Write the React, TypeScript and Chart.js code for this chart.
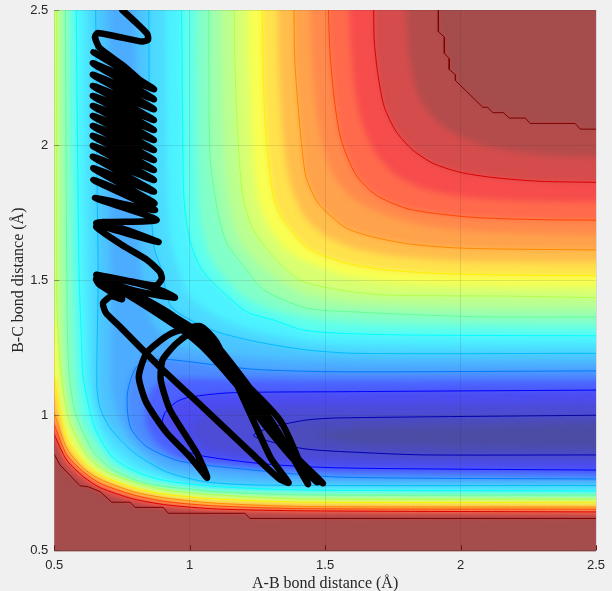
import React, { useEffect, useRef } from "react";
import { Chart, registerables } from "chart.js";

Chart.register(...registerables);

type P = [number, number];

const axisTicks = [0.5, 1, 1.5, 2, 2.5];
const xTitle = "A-B bond distance (Å)";
const yTitle = "B-C bond distance (Å)";

// Contour lines: the high-energy side (upper right) ...
const darkRedHigh: P[] = [[1.918,2.5],[1.918,2.42],[1.94,2.4],[1.94,2.34],[1.958,2.32],[1.958,2.28],[1.981,2.26],[1.981,2.239],[2.082,2.14],[2.1,2.14],[2.119,2.12],[2.158,2.12],[2.18,2.1],[2.239,2.1],[2.257,2.08],[2.423,2.08],[2.442,2.059],[2.5,2.059]];
const m1High: P[] = [[1.8,2.5],[1.805,2.38],[1.82,2.27],[1.85,2.17],[1.91,2.09],[2,2.03],[2.12,1.99],[2.29,1.965],[2.5,1.955]];
const redHigh: P[] = [[1.679,2.5],[1.681,2.389],[1.694,2.267],[1.718,2.142],[1.762,2.05],[1.823,1.982],[1.897,1.933],[1.995,1.9],[2.119,1.88],[2.291,1.866],[2.5,1.862]];
const m2High: P[] = [[1.59,2.5],[1.595,2.36],[1.61,2.2],[1.64,2.07],[1.69,1.965],[1.76,1.89],[1.86,1.84],[2,1.81],[2.2,1.795],[2.5,1.79]];
const orangeRedHigh: P[] = [[1.512,2.5],[1.518,2.34],[1.534,2.167],[1.559,2.019],[1.614,1.889],[1.688,1.815],[1.798,1.766],[1.921,1.745],[2.068,1.731],[2.29,1.724],[2.5,1.722]];
const m3High: P[] = [[1.445,2.5],[1.45,2.34],[1.465,2.15],[1.49,2],[1.53,1.89],[1.6,1.805],[1.7,1.75],[1.85,1.705],[2.05,1.68],[2.5,1.667]];
const orangeHigh: P[] = [[1.385,2.5],[1.389,2.29],[1.426,1.896],[1.466,1.797],[1.503,1.754],[1.577,1.693],[1.676,1.66],[1.81,1.634],[1.971,1.62],[2.168,1.615],[2.5,1.612]];
const m4High: P[] = [[1.325,2.5],[1.33,2.26],[1.345,2.02],[1.37,1.86],[1.42,1.74],[1.49,1.67],[1.6,1.62],[1.75,1.59],[2,1.57],[2.5,1.565]];
const yellowHigh: P[] = [[1.268,2.5],[1.272,2.23],[1.284,2.008],[1.309,1.809],[1.345,1.723],[1.429,1.624],[1.503,1.587],[1.589,1.56],[1.725,1.538],[1.92,1.525],[2.168,1.519],[2.5,1.517]];
const m5High: P[] = [[1.215,2.5],[1.22,2.26],[1.23,2.01],[1.25,1.81],[1.29,1.7],[1.36,1.61],[1.45,1.56],[1.58,1.515],[1.75,1.49],[2,1.48],[2.5,1.475]];
const limeHigh: P[] = [[1.165,2.5],[1.167,2.29],[1.179,2.008],[1.198,1.797],[1.235,1.686],[1.309,1.587],[1.407,1.5],[1.551,1.464],[1.725,1.445],[2.168,1.441],[2.5,1.435]];
const m6High: P[] = [[1.115,2.5],[1.118,2.25],[1.125,2],[1.145,1.79],[1.18,1.66],[1.25,1.565],[1.34,1.49],[1.43,1.445],[1.6,1.415],[2,1.4],[2.5,1.398]];
const greenHigh: P[] = [[1.07,2.5],[1.071,2.23],[1.075,1.956],[1.1,1.771],[1.136,1.638],[1.21,1.538],[1.272,1.464],[1.429,1.397],[1.614,1.382],[2.045,1.365],[2.5,1.364]];
const m7High: P[] = [[1.02,2.5],[1.022,2.2],[1.027,1.9],[1.04,1.72],[1.07,1.6],[1.12,1.52],[1.2,1.44],[1.32,1.385],[1.5,1.35],[1.8,1.335],[2.5,1.33]];
const cyanHigh: P[] = [[0.97,2.5],[0.974,2.045],[0.979,1.797],[1,1.649],[1.038,1.549],[1.087,1.489],[1.21,1.383],[1.308,1.353],[1.429,1.313],[1.736,1.298],[2.5,1.294]];
const m8High: P[] = [[0.91,2.5],[0.912,2.2],[0.915,1.85],[0.93,1.65],[0.955,1.55],[1,1.44],[1.07,1.385],[1.17,1.335],[1.32,1.295],[1.55,1.265],[2.5,1.26]];
const skyHigh: P[] = [[0.849,2.5],[0.85,2.167],[0.853,1.86],[0.868,1.623],[0.896,1.538],[0.927,1.408],[0.989,1.36],[1.1,1.309],[1.247,1.272],[1.429,1.242],[1.614,1.229],[2.5,1.229]];
const m9High: P[] = [[0.8,2.5],[0.805,2],[0.81,1.7],[0.83,1.45],[0.87,1.33],[0.95,1.26],[1.1,1.23],[1.3,1.21],[1.6,1.2],[2.5,1.197]];

// ... and the repulsive-wall side (lower left)
const darkRedLow: P[] = [[0.5,0.855],[0.521,0.816],[0.595,0.739],[0.626,0.735],[0.669,0.717],[0.712,0.678],[0.78,0.678],[0.798,0.659],[0.902,0.659],[0.921,0.637],[1.204,0.637],[1.222,0.618],[2.5,0.618]];
const m1Low: P[] = [[0.5,0.89],[0.546,0.805],[0.607,0.755],[0.669,0.72],[0.792,0.678],[0.915,0.66],[1.2,0.642],[2.5,0.63]];
const redLow: P[] = [[0.5,0.927],[0.546,0.834],[0.607,0.773],[0.669,0.732],[0.792,0.69],[0.915,0.668],[1.099,0.653],[1.429,0.646],[2.5,0.642]];
const m2Low: P[] = [[0.5,0.945],[0.546,0.843],[0.607,0.782],[0.669,0.74],[0.792,0.697],[0.915,0.674],[1.099,0.658],[2.5,0.647]];
const orangeRedLow: P[] = [[0.5,0.964],[0.546,0.853],[0.607,0.791],[0.669,0.748],[0.792,0.705],[0.915,0.68],[1.099,0.664],[1.429,0.654],[2.5,0.652]];
const m3Low: P[] = [[0.5,0.985],[0.546,0.865],[0.607,0.797],[0.669,0.755],[0.792,0.711],[0.915,0.686],[1.099,0.669],[2.5,0.656]];
const orangeLow: P[] = [[0.5,1.007],[0.546,0.878],[0.607,0.804],[0.669,0.763],[0.792,0.717],[0.915,0.693],[1.099,0.674],[1.429,0.662],[2.5,0.66]];
const m4Low: P[] = [[0.5,1.07],[0.546,0.895],[0.607,0.816],[0.669,0.771],[0.792,0.725],[0.915,0.7],[1.099,0.682],[2.5,0.669]];
const yellowLow: P[] = [[0.5,1.137],[0.521,1.013],[0.546,0.915],[0.607,0.828],[0.669,0.779],[0.792,0.732],[0.915,0.707],[1.099,0.69],[1.429,0.678],[2.5,0.678]];
const m5Low: P[] = [[0.5,1.35],[0.525,1.1],[0.55,0.95],[0.612,0.84],[0.68,0.785],[0.792,0.743],[0.915,0.715],[1.099,0.697],[2.5,0.684]];
const limeLow: P[] = [[0.509,2.5],[0.509,1.445],[0.521,1.2],[0.552,0.989],[0.619,0.853],[0.693,0.791],[0.792,0.754],[0.915,0.723],[1.099,0.705],[1.429,0.69],[2.5,0.69]];
const m6Low: P[] = [[0.523,2.5],[0.527,1.55],[0.535,1.2],[0.563,1],[0.63,0.858],[0.705,0.794],[0.8,0.754],[0.915,0.73],[1.099,0.711],[2.5,0.697]];
const greenLow: P[] = [[0.541,2.5],[0.546,1.55],[0.552,1.2],[0.576,1.013],[0.644,0.865],[0.718,0.797],[0.816,0.754],[0.915,0.736],[1.099,0.717],[1.429,0.705],[2.5,0.705]];
const m7Low: P[] = [[0.561,2.5],[0.568,1.55],[0.578,1.2],[0.6,1],[0.647,0.91],[0.718,0.82],[0.816,0.77],[0.915,0.746],[1.099,0.727],[2.5,0.712]];
const cyanLow: P[] = [[0.581,2.5],[0.591,1.55],[0.601,1.26],[0.607,1.137],[0.65,0.952],[0.718,0.841],[0.816,0.785],[0.915,0.757],[1.099,0.736],[1.429,0.723],[2.5,0.72]];
const m8Low: P[] = [[0.617,2.5],[0.624,1.55],[0.63,1.25],[0.632,1.12],[0.66,0.99],[0.712,0.89],[0.8,0.815],[0.915,0.773],[1.08,0.745],[2.5,0.73]];
const skyLow: P[] = [[0.653,2.5],[0.657,1.92],[0.662,1.512],[0.657,1.112],[0.669,1.027],[0.706,0.953],[0.791,0.864],[0.915,0.79],[1.063,0.753],[1.284,0.741],[2.5,0.74]];
const m9Low: P[] = [[0.7,2.5],[0.705,1.7],[0.71,1.4],[0.71,1.1],[0.74,0.98],[0.8,0.89],[0.9,0.81],[1.1,0.775],[1.4,0.758],[2.5,0.753]];

// Valley contours that close around the minimum (right edge, round the left end, back to the right edge)
const lightBlueLoop: P[] = [[2.5,1.164],[1.555,1.161],[1.235,1.17],[0.939,1.205],[0.866,1.205],[0.804,1.18],[0.77,1.082],[0.78,0.958],[0.841,0.884],[0.964,0.83],[1.235,0.797],[1.555,0.771],[2.5,0.764]];
const m10Loop: P[] = [[2.5,1.13],[1.5,1.13],[1.1,1.135],[0.95,1.135],[0.87,1.11],[0.84,1.05],[0.84,0.96],[0.89,0.885],[0.98,0.835],[1.2,0.81],[1.5,0.79],[2.5,0.78]];
const blueLoop: P[] = [[2.5,1.093],[1.555,1.087],[1.149,1.083],[1,1.067],[0.952,1.05],[0.909,1.009],[0.9,0.971],[0.975,0.879],[1.026,0.853],[1.272,0.82],[1.555,0.805],[2.5,0.797]];
const m11Loop: P[] = [[2.5,1.047],[1.6,1.04],[1.3,1.035],[1.1,1.02],[1.02,0.98],[1.01,0.93],[1.06,0.88],[1.2,0.85],[1.5,0.83],[2.5,0.825]];
const darkBlueLoop: P[] = [[2.5,1],[1.551,0.99],[1.429,0.982],[1.3,0.955],[1.235,0.927],[1.26,0.912],[1.429,0.875],[1.676,0.86],[1.873,0.853],[2.5,0.853]];
const innerLoop: P[] = [[2.5,0.97],[2,0.96],[1.6,0.95],[1.46,0.927],[1.6,0.9],[2,0.885],[2.5,0.88]];

// Jet-scale position of each contour, outermost first
const openLevels: [number, P[], P[], boolean][] = [
  [1.0, darkRedHigh, darkRedLow, true],
  [0.955, m1High, m1Low, false],
  [0.91, redHigh, redLow, true],
  [0.86, m2High, m2Low, false],
  [0.805, orangeRedHigh, orangeRedLow, true],
  [0.77, m3High, m3Low, false],
  [0.74, orangeHigh, orangeLow, true],
  [0.69, m4High, m4Low, false],
  [0.64, yellowHigh, yellowLow, true],
  [0.595, m5High, m5Low, false],
  [0.55, limeHigh, limeLow, true],
  [0.51, m6High, m6Low, false],
  [0.475, greenHigh, greenLow, true],
  [0.425, m7High, m7Low, false],
  [0.375, cyanHigh, cyanLow, true],
  [0.34, m8High, m8Low, false],
  [0.31, skyHigh, skyLow, true],
  [0.275, m9High, m9Low, false],
];
const loopLevels: [number, P[], boolean][] = [
  [0.245, lightBlueLoop, true],
  [0.185, m10Loop, false],
  [0.125, blueLoop, true],
  [0.09, m11Loop, false],
  [0.05, darkBlueLoop, true],
  [0.02, innerLoop, false],
];

// The trajectory, in drawing order
const trajectory: P[] = [
  [0.751,2.5],[0.8,2.455],[0.843,2.412],[0.846,2.39],[0.825,2.383],[0.74,2.4],[0.66,2.415],[0.65,2.4],[0.667,2.36],[0.76,2.29],[0.84,2.22],[0.868,2.207],
  [0.645,2.344],[0.868,2.207],[0.642,2.303],[0.868,2.17],[0.642,2.26],[0.868,2.133],[0.642,2.219],[0.868,2.093],[0.642,2.182],[0.868,2.056],[0.642,2.145],[0.868,2.019],
  [0.642,2.108],[0.868,1.982],[0.642,2.071],[0.868,1.945],[0.642,2.034],[0.868,1.908],[0.642,1.997],[0.868,1.871],[0.642,1.957],[0.868,1.828],[0.644,1.914],[0.87,1.785],
  [0.644,1.871],[0.872,1.76],[0.65,1.804],[0.878,1.723],[0.655,1.711],[0.885,1.641],[0.68,1.715],[0.655,1.697],[0.75,1.63],[0.842,1.575],[0.89,1.53],[0.897,1.505],[0.875,1.48],
  [0.76,1.5],[0.655,1.52],[0.8,1.49],[0.9,1.46],[0.945,1.435],[0.8,1.46],[0.655,1.505],[0.665,1.485],[0.75,1.43],[0.71,1.44],[0.68,1.415],[0.69,1.38],[0.743,1.327],[0.89,1.178],[1.048,1.03],[1.222,0.865],[1.33,0.765],[1.365,0.75],
  [1.3,0.84],[1.235,0.98],[1.1,1.268],[1.038,1.33],[0.927,1.3],[0.841,1.231],[0.812,1.142],[0.84,1.046],[0.915,0.935],[1,0.847],[1.065,0.768],
  [1.026,0.86],[0.927,1.02],[0.893,1.13],[0.9,1.205],[0.952,1.267],[1.038,1.325],[1.075,1.29],[1.235,1.082],[1.358,0.883],[1.437,0.745],
  [1.333,0.982],[1.1,1.22],[0.95,1.36],[0.816,1.44],[0.731,1.476],[0.85,1.42],[1.03,1.31],[1.1,1.25],[1.245,1.008],[1.385,0.835],[1.492,0.748],
  [1.38,0.86],[1.137,1.18],[0.99,1.303],[0.853,1.415],[0.7,1.49],[0.86,1.4],[1.05,1.25],[1.25,1.02],[1.42,0.8],[1.47,0.752],[1.4,0.82],[1.3,0.98],[1.13,1.2],[0.95,1.33],[0.78,1.44],[0.68,1.49],
];

function jet(t: number): number[] {
  const c = (v: number) => Math.max(0, Math.min(1, v));
  return [
    255 * c(Math.min(4 * t - 1.5, 4.5 - 4 * t)),
    255 * c(Math.min(4 * t - 0.5, 3.5 - 4 * t)),
    255 * c(Math.min(4 * t + 0.5, 2.5 - 4 * t)),
  ];
}
const lineColor = (t: number) => {
  const [r, g, b] = jet(t);
  return `rgb(${r | 0},${g | 0},${b | 0})`;
};
const fillColor = (t: number) => {
  const [r, g, b] = jet(t).map((v) => 0.7 * v + 76.5);
  return `rgb(${r | 0},${g | 0},${b | 0})`;
};
const xy = (pts: P[]) => pts.map(([x, y]) => ({ x, y }));
const FAR = 2.9;
const openShape = (high: P[], low: P[]): P[] => {
  const head: P[] = low[0][1] < 2.5 ? [[0.2, FAR], [0.2, low[0][1]]] : [[low[0][0], FAR]];
  return [
    ...head,
    ...low,
    [FAR, low[low.length - 1][1]],
    [FAR, high[high.length - 1][1]],
    ...[...high].reverse(),
    [high[0][0], FAR],
  ];
};
const loopShape = (loop: P[]): P[] => [[FAR, loop[0][1]], ...loop, [FAR, loop[loop.length - 1][1]]];

const fieldPlugin = {
  id: "field",
  beforeDatasetsDraw(chart: any) {
    const { ctx, chartArea: a } = chart;
    ctx.save();
    ctx.fillStyle = fillColor(1);
    ctx.fillRect(a.left, a.top, a.right - a.left, a.bottom - a.top);
    ctx.restore();
    ctx.filter = "blur(3px)";
  },
  afterDatasetDraw(chart: any, args: any) {
    if (chart.data.datasets[args.index].lastFill) chart.ctx.filter = "none";
  },
  afterDatasetsDraw(chart: any) {
    const { ctx, chartArea: a, scales } = chart;
    ctx.save();
    ctx.strokeStyle = "#6e1414";
    ctx.lineWidth = 1;
    ctx.beginPath();
    ctx.moveTo(a.left, a.bottom + 0.5);
    ctx.lineTo(a.right, a.bottom + 0.5);
    for (const v of axisTicks) {
      const x = Math.round(scales.x.getPixelForValue(v)) + 0.5;
      ctx.moveTo(x, a.bottom);
      ctx.lineTo(x, a.bottom - 5);
    }
    ctx.stroke();
    ctx.strokeStyle = "rgba(60,60,60,0.45)";
    ctx.beginPath();
    for (const v of axisTicks) {
      const y = Math.round(scales.y.getPixelForValue(v)) + 0.5;
      ctx.moveTo(a.left, y);
      ctx.lineTo(a.left + 5, y);
    }
    ctx.stroke();
    ctx.restore();
  },
};

export default function App() {
  const ref = useRef<HTMLCanvasElement | null>(null);
  useEffect(() => {
    document.body.style.background = "#f0f0f0";
    const datasets: any[] = [];
    let order = 1000;
    const allT = [...openLevels.map((l) => l[0]), ...loopLevels.map((l) => l[0]), 0];
    const shapes: P[][] = [
      ...openLevels.map((l) => openShape(l[1], l[2])),
      ...loopLevels.map((l) => loopShape(l[1])),
    ];
    shapes.forEach((shape, i) => {
      datasets.push({
        data: xy(shape),
        showLine: true,
        fill: "shape",
        backgroundColor: fillColor(i === shapes.length - 1 ? 0 : (allT[i] + allT[i + 1]) / 2),
        borderWidth: 0,
        borderColor: "transparent",
        pointRadius: 0,
        tension: i === 0 ? 0 : 0.25,
        order: order--,
        lastFill: i === shapes.length - 1,
      });
    });
    const stroke = (pts: P[], t: number, tension: number) =>
      datasets.push({
        data: xy(pts),
        showLine: true,
        fill: false,
        borderColor: lineColor(t),
        borderWidth: 1,
        pointRadius: 0,
        tension,
        order: order--,
      });
    openLevels.forEach(([t, high, low, major]) => {
      if (!major) return;
      stroke(high, t, t === 1 ? 0 : 0.25);
      stroke(low, t, t === 1 ? 0 : 0.25);
    });
    loopLevels.forEach(([t, loop, major]) => {
      if (major) stroke(loop, t, 0.25);
    });
    datasets.push({
      data: xy(trajectory),
      showLine: true,
      fill: false,
      borderColor: "#000",
      borderWidth: 6.5,
      borderCapStyle: "round",
      borderJoinStyle: "round",
      capBezierPoints: false,
      pointRadius: 0,
      tension: 0.2,
      order: order--,
    });
    const tickFont = { family: "'Liberation Sans', Arial, sans-serif", size: 13 };
    const titleFont = { family: "'Liberation Serif', serif", size: 16 };
    const grid = { color: "rgba(38,38,38,0.12)", z: 1, drawTicks: false, tickLength: 0 };
    const chart = new Chart(ref.current as HTMLCanvasElement, {
      type: "scatter",
      data: { datasets },
      options: {
        animation: false,
        responsive: false,
        events: [],
        layout: { padding: { top: 10, right: 16, left: 0, bottom: 0 } },
        plugins: { legend: { display: false }, tooltip: { enabled: false } },
        scales: {
          x: {
            type: "linear",
            min: 0.5,
            max: 2.5,
            afterFit: (s: any) => { s.height = 40.7; s.paddingLeft = 0; s.paddingRight = 0; },
            grid,
            border: { display: false },
            ticks: { stepSize: 0.5, autoSkip: false, maxRotation: 0, padding: 7, color: "#262626", font: tickFont, callback: (v: any) => String(v) },
            title: { display: true, text: xTitle, color: "#262626", font: titleFont, padding: { top: 0, bottom: -2 } },
          },
          y: {
            type: "linear",
            min: 0.5,
            max: 2.5,
            afterFit: (s: any) => { s.width = 54.3; s.paddingTop = 0; s.paddingBottom = 0; },
            grid,
            border: { display: false },
            ticks: { stepSize: 0.5, autoSkip: false, maxRotation: 0, padding: 6, color: "#262626", font: tickFont, callback: (v: any) => String(v) },
            title: { display: true, text: yTitle, color: "#262626", font: titleFont, padding: { top: 9, bottom: 0 } },
          },
        },
      },
      plugins: [fieldPlugin],
    } as any);
    return () => chart.destroy();
  }, []);
  return (
    <canvas
      ref={ref}
      width={612}
      height={591}
      style={{ position: "fixed", left: 0, top: 0, width: 612, height: 591, background: "#f0f0f0" }}
    />
  );
}
